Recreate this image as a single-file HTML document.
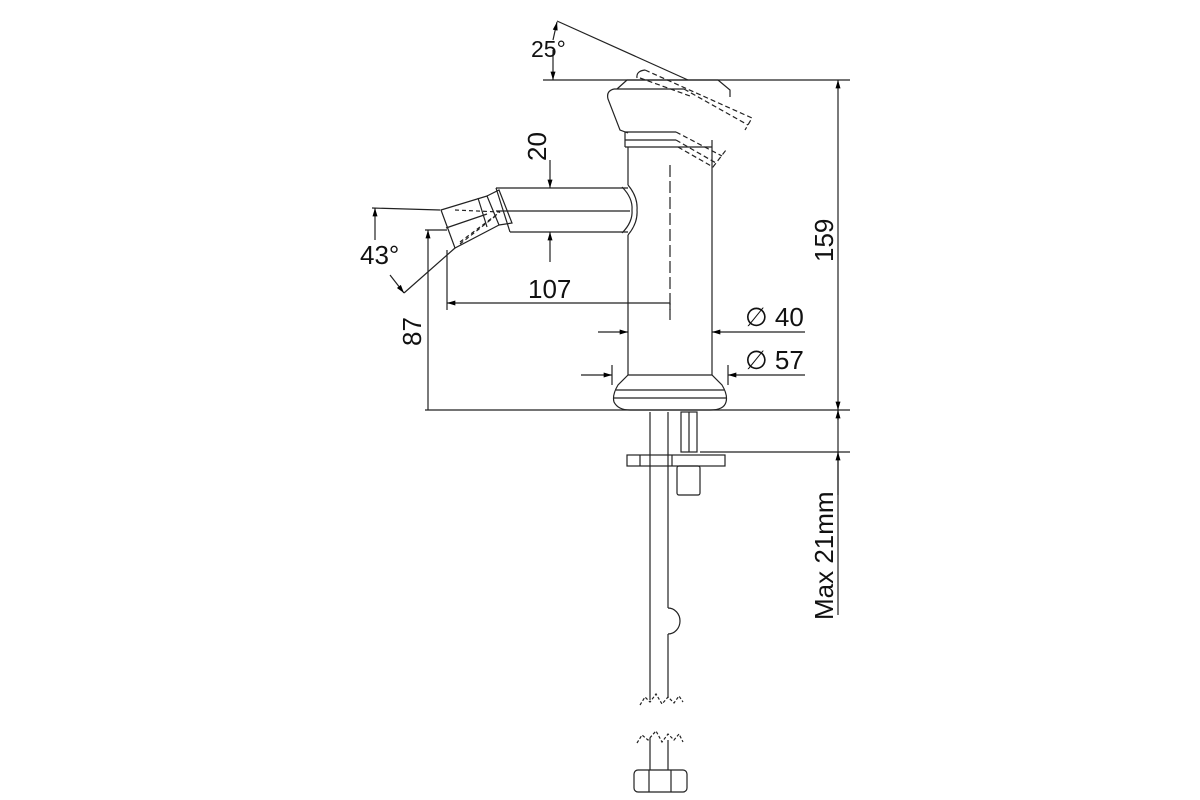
<!DOCTYPE html>
<html><head><meta charset="utf-8"><style>html,body{margin:0;padding:0;background:#fff}svg{display:block}</style></head><body>
<svg width="1200" height="800" viewBox="0 0 1200 800" xmlns="http://www.w3.org/2000/svg" font-family="Liberation Sans, sans-serif">
<defs>
<marker id="a" viewBox="0 0 10 6" refX="10" refY="3" markerWidth="14" markerHeight="5" orient="auto-start-reverse" markerUnits="userSpaceOnUse"><path d="M0,0 L10,3 L0,6z" fill="#000"/></marker>
</defs>
<g stroke="#222" stroke-width="1.2" fill="none">
<line x1="543" y1="80" x2="850" y2="80"/>
<line x1="557" y1="21" x2="688" y2="80"/>
<line x1="425" y1="410" x2="850" y2="410"/>
<line x1="700" y1="452" x2="850" y2="452"/>
<!-- handle -->
<path d="M617,89 L627,80 L718,80 L730,90 L730,97"/>
<path d="M614,89 Q606,91 608,99 L620,130 L628,133"/>
<line x1="614" y1="89" x2="684" y2="89"/>
<line x1="625" y1="132" x2="676" y2="132"/>
<line x1="625" y1="140" x2="676" y2="140"/>
<line x1="625" y1="147" x2="712" y2="147"/>
<line x1="625" y1="132" x2="625" y2="147"/>
<path d="M637,78 Q636,71 645,70" />
<g stroke-dasharray="5,3">
<path d="M645,70 L752,118 L745,130"/>
<path d="M684,89 L748,125"/>
<path d="M640,78 L690,96"/>
<path d="M676,132 L722,156"/>
<path d="M676,140 L716,163"/>
<path d="M678,147 L713,167 L726,150"/>
</g>
<!-- body -->
<line x1="628" y1="147" x2="628" y2="185"/>
<line x1="628" y1="235" x2="628" y2="375"/>
<line x1="712" y1="140" x2="712" y2="375"/>
<line x1="670" y1="165" x2="670" y2="320" stroke-dasharray="12,4"/>
<!-- base -->
<path d="M628,375 L618,385 Q612,395 614,402 Q618,410 630,410 L710,410 Q724,410 726,402 Q728,395 722,385 L712,375 Z"/>
<line x1="616" y1="390" x2="724" y2="390"/>
<line x1="614" y1="398" x2="726" y2="398"/>
<!-- spout -->
<line x1="496" y1="188" x2="628" y2="188"/>
<line x1="510" y1="232" x2="628" y2="232"/>
<line x1="496" y1="211" x2="630" y2="211"/>
<path d="M628,185 Q638,197 637,210 Q638,223 628,235"/>
<path d="M622,187 Q633,198 632,210 Q633,222 622,233"/>
<path d="M496,188 L510,232"/>
<path d="M441,210 L487,196 L499,225 L455,248 Z"/>
<path d="M478,198 L487,227"/>
<path d="M487,196 L499,190 L512,223 L499,225"/>
<line x1="446" y1="228" x2="487" y2="214"/>
<g stroke-dasharray="4,3"><line x1="455" y1="210" x2="500" y2="212"/><line x1="460" y1="242" x2="500" y2="212"/><line x1="460" y1="244" x2="498" y2="214"/></g>
<line x1="404" y1="293" x2="455" y2="248"/>
<line x1="372" y1="208" x2="440" y2="210"/>
<line x1="425" y1="230" x2="447" y2="230"/>
<line x1="447" y1="250" x2="447" y2="310"/>
<!-- dims -->
<line x1="838" y1="80" x2="838" y2="410" marker-start="url(#a)" marker-end="url(#a)"/>
<line x1="838" y1="410" x2="838" y2="615"/>
<line x1="838" y1="495" x2="838" y2="452" marker-end="url(#a)"/>
<line x1="838" y1="420" x2="838" y2="410" marker-end="url(#a)"/>
<line x1="550" y1="160" x2="550" y2="188" marker-end="url(#a)"/>
<line x1="550" y1="262" x2="550" y2="232" marker-end="url(#a)"/>
<line x1="447" y1="303" x2="670" y2="303" marker-start="url(#a)"/>
<line x1="670" y1="303" x2="670" y2="310"/>
<line x1="428" y1="410" x2="428" y2="230" marker-end="url(#a)"/>
<line x1="375" y1="240" x2="375" y2="208" marker-end="url(#a)"/>
<line x1="390" y1="275" x2="404" y2="293" marker-end="url(#a)"/>
<line x1="553" y1="50" x2="553" y2="80" marker-end="url(#a)"/>
<line x1="553" y1="40" x2="557" y2="22" marker-end="url(#a)"/>
<line x1="598" y1="332" x2="628" y2="332" marker-end="url(#a)"/>
<line x1="805" y1="332" x2="712" y2="332" marker-end="url(#a)"/>
<line x1="581" y1="375" x2="612" y2="375" marker-end="url(#a)"/>
<line x1="805" y1="375" x2="728" y2="375" marker-end="url(#a)"/>
<line x1="612" y1="365" x2="612" y2="385"/>
<line x1="728" y1="365" x2="728" y2="385"/>
<!-- pipes below -->
<line x1="650" y1="412" x2="650" y2="700"/>
<line x1="668" y1="412" x2="668" y2="608"/>
<line x1="668" y1="634" x2="668" y2="698"/>
<path d="M668,608 A12,13 0 0 1 668,634"/>
<rect x="681" y="412" width="16" height="40"/>
<line x1="689" y1="412" x2="689" y2="452"/>
<rect x="627" y="455" width="98" height="11"/>
<line x1="640" y1="455" x2="640" y2="466"/><line x1="672" y1="455" x2="672" y2="466"/>
<rect x="677" y="466" width="23" height="29" rx="2"/>
<path d="M640,705 L645,697 L650,702 L656,694 L662,704 L668,697 L674,703 L679,696 L683,702" stroke-dasharray="3,2"/>
<path d="M637,743 L642,735 L648,740 L656,731 L662,742 L668,734 L674,740 L679,734 L683,742" stroke-dasharray="3,2"/>
<line x1="650" y1="738" x2="650" y2="770"/><line x1="668" y1="740" x2="668" y2="770"/>
<rect x="634" y="770" width="53" height="22" rx="4"/>
<line x1="649" y1="770" x2="649" y2="792"/><line x1="671" y1="770" x2="671" y2="792"/>
</g>
<g font-size="26" fill="#111">
<text x="531" y="57" font-size="23">25°</text>
<text x="360" y="264">43°</text>
<text x="528" y="298">107</text>
<text x="546" y="161" transform="rotate(-90 546 161)">20</text>
<text x="421" y="346" transform="rotate(-90 421 346)">87</text>
<text x="833" y="262" transform="rotate(-90 833 262)">159</text>
<text x="833" y="620" transform="rotate(-90 833 620)">Max 21mm</text>
<text x="745" y="326">∅ 40</text>
<text x="745" y="369">∅ 57</text>
</g>
</svg>
</body></html>
